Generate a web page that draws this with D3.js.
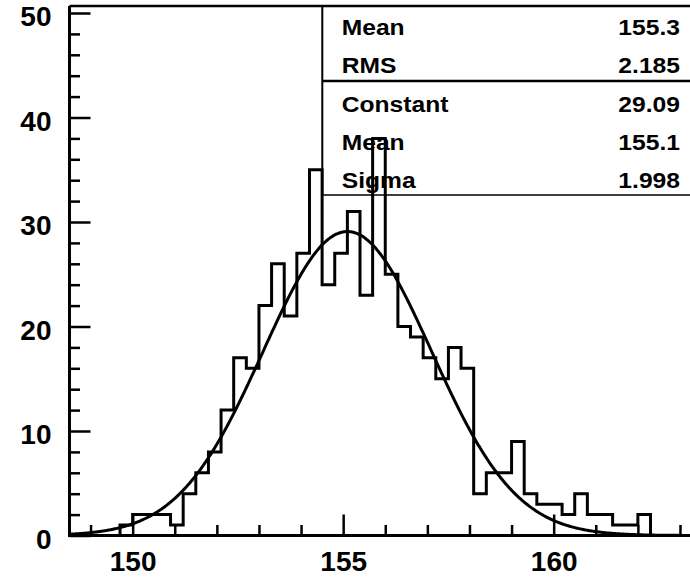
<!DOCTYPE html>
<html><head><meta charset="utf-8">
<script src="https://cdn.jsdelivr.net/npm/d3@7/dist/d3.min.js"></script>
<style>
body{margin:0;background:#fff}
svg{display:block}
text{font-family:"Liberation Sans",Arial,Helvetica,sans-serif;font-weight:bold;fill:#000}
</style></head><body>
<svg id="c" width="690" height="579"></svg>
<script>
// ---- data ----
const binLow = 148.5;
const binWidth = 0.3;
const counts = [0,0,0,0,1,2,2,2,1,4,6,8,12,17,16,22,26,21,27,35,24,27,31,23,38,25,20,19,17,15,18,16,4,6,6,9,4,3,3,2,4,2,2,1,1,2,0,0,0];
const xMajorTicks = [150,155,160];
const xMinorTicks = [149,151,152,153,154,156,157,158,159,161,162,163];
const yMajorTicks = [0,10,20,30,40,50];
const yMinorTicks = [2,4,6,8,12,14,16,18,22,24,26,28,32,34,36,38,42,44,46,48];
const statNames = ["Mean","RMS","Constant","Mean","Sigma"];
const statValues = ["155.3","2.185","29.09","155.1","1.998"];
const fitConstant = 29.09, fitMean = 155.1, fitSigma = 1.998;

// ---- layout ----
const svg = d3.select("#c");
const L = 69.5, R = 688.4, B = 535.5, T = 13, FRAME_TOP = 6;
const xMax = binLow + binWidth*counts.length;
const x = d3.scaleLinear().domain([binLow, xMax]).range([L, R]);
const y = d3.scaleLinear().domain([0, 50]).range([B, T]);

svg.append("defs").append("clipPath").attr("id","clip")
  .append("rect").attr("x",L).attr("y",FRAME_TOP).attr("width",690-L).attr("height",B-FRAME_TOP);

// histogram outline
const pts = [[binLow,0]];
counts.forEach((c,i)=>{ const a=binLow+i*binWidth; pts.push([a,c],[a+binWidth,c]); });
pts.push([xMax,0]);
const line = d3.line().x(d=>x(d[0])).y(d=>y(d[1]));
svg.append("path").attr("d", line(pts)).attr("fill","none").attr("stroke","#000")
  .attr("stroke-width",3).attr("stroke-linejoin","miter").attr("clip-path","url(#clip)");

// fit curve
const cx = d3.range(0, 601).map(i => binLow + (xMax-binLow)*i/600);
const curvePts = cx.map(v => [v, fitConstant*Math.exp(-0.5*Math.pow((v-fitMean)/fitSigma,2))]);
svg.append("path").attr("d", line.curve(d3.curveBasis)(curvePts)).attr("fill","none").attr("stroke","#000")
  .attr("stroke-width",3).attr("clip-path","url(#clip)");

// axes
const gx = svg.append("g").attr("transform",`translate(0,${B})`);
gx.call(d3.axisBottom(x).tickValues(xMajorTicks).tickSizeInner(-21).tickSizeOuter(0).tickPadding(16).tickFormat(d3.format("d")));
gx.append("g").call(d3.axisBottom(x).tickValues(xMinorTicks).tickSizeInner(-10.5).tickSizeOuter(0).tickFormat(""))
  .select(".domain").remove();
gx.selectAll("text").attr("font-size",28).style("font-family",'"Liberation Sans",Arial,sans-serif').style("font-weight","bold");

const gy = svg.append("g").attr("transform",`translate(${L},0)`);
gy.call(d3.axisLeft(y).tickValues(yMajorTicks).tickSizeInner(-21).tickSizeOuter(0).tickPadding(18).tickFormat(d3.format("d")));
gy.append("g").call(d3.axisLeft(y).tickValues(yMinorTicks).tickSizeInner(-10.5).tickSizeOuter(0).tickFormat(""))
  .select(".domain").remove();
gy.selectAll("text").attr("font-size",28).attr("dy","0.45em").style("font-family",'"Liberation Sans",Arial,sans-serif').style("font-weight","bold");

svg.selectAll(".tick line").attr("stroke","#000").attr("stroke-width",2.5);
svg.selectAll(".domain").attr("stroke","#000").attr("stroke-width",3);
// extend axis lines
gx.select(".domain").attr("d",`M${L-1.5},0H690`);
gy.select(".domain").attr("d",`M0,${B+1.5}V${FRAME_TOP}`);

// top frame
svg.append("line").attr("x1",L).attr("x2",690).attr("y1",FRAME_TOP).attr("y2",FRAME_TOP)
  .attr("stroke","#000").attr("stroke-width",2.5);

// stats box
const boxL = 322.3, boxB = 195, sep = 81;
svg.append("line").attr("x1",boxL).attr("x2",boxL).attr("y1",FRAME_TOP).attr("y2",boxB).attr("stroke","#000").attr("stroke-width",2);
svg.append("line").attr("x1",boxL).attr("x2",690).attr("y1",sep).attr("y2",sep).attr("stroke","#000").attr("stroke-width",2.5);
svg.append("line").attr("x1",boxL).attr("x2",690).attr("y1",boxB).attr("y2",boxB).attr("stroke","#000").attr("stroke-width",1.5);
const rowBase = [35, 73, 112, 150, 187.5];
statNames.forEach((n,i)=>{
  svg.append("text").attr("transform",`translate(341.7,${rowBase[i]}) scale(1.12,1)`).attr("font-size",22).text(n);
  svg.append("text").attr("transform",`translate(680,${rowBase[i]}) scale(1.12,1)`).attr("font-size",22)
    .attr("text-anchor","end").text(statValues[i]);
});
</script>
</body></html>
